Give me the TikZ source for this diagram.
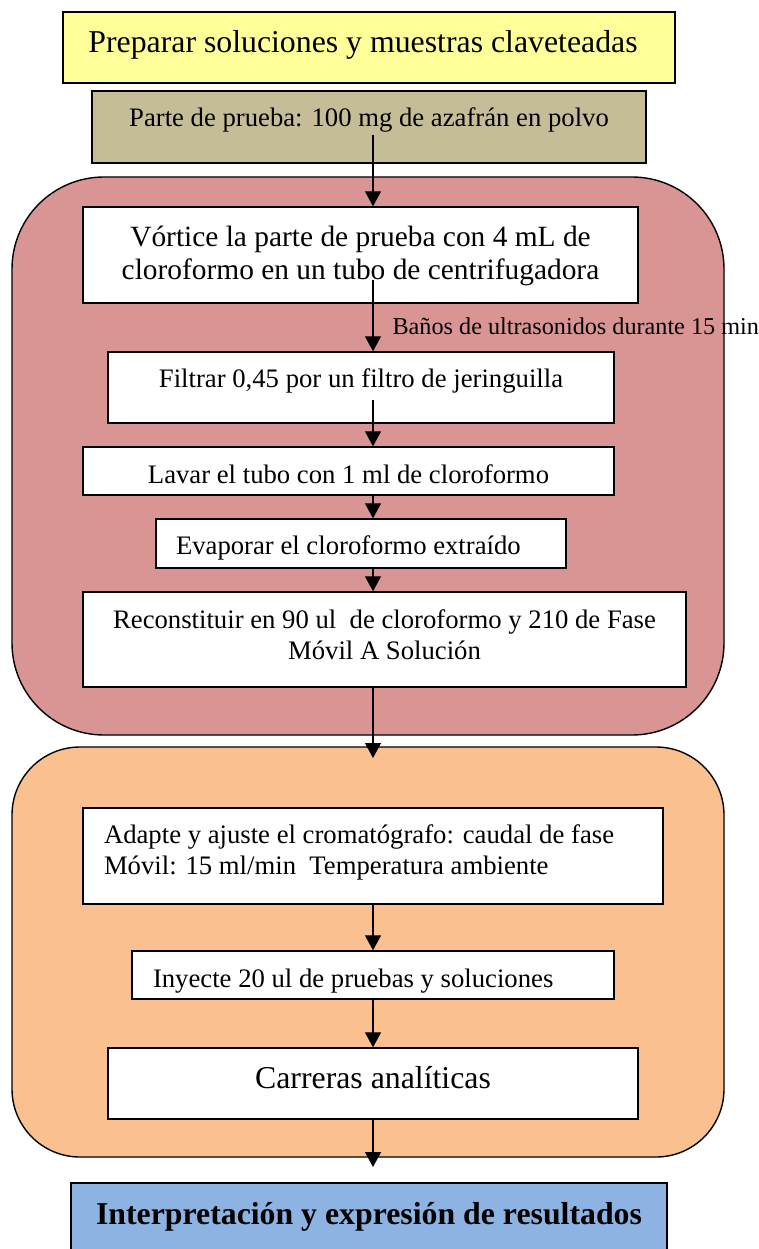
\documentclass[tikz,border=0pt]{standalone}
\usepackage{fontspec}
\setmainfont{Liberation Serif}
\usetikzlibrary{arrows.meta,calc}
\definecolor{cyellow}{HTML}{FFFF99}
\definecolor{ctan}{HTML}{C4BD97}
\definecolor{cred}{HTML}{D99594}
\definecolor{corange}{HTML}{FAC08F}
\definecolor{cblue}{HTML}{8DB3E2}
\newcommand{\rb}[2]{\raisebox{#1pt}[0pt][0pt]{#2}}
\tikzset{
  stepbox/.style={draw=black, line width=1.4pt, rectangle, inner sep=0pt, fill=white},
  grp/.style={draw=black, line width=1.4pt, rectangle, inner sep=0pt},
  arr/.style={line width=1.2pt, -{Triangle[length=15pt,width=16pt]}},
  fa/.style={font=\fontsize{26.7}{31}\selectfont},
  fb/.style={font=\fontsize{29.4}{33}\selectfont},
  fc/.style={font=\fontsize{31.8}{36}\selectfont},
  fd/.style={font=\fontsize{24.2}{28}\selectfont},
}
\begin{document}
\begin{tikzpicture}[x=1pt,y=-1pt]
\useasboundingbox (0,0) rectangle (758,1249);
\clip (0,0) rectangle (758,1249);
\coordinate (ax) at (373,0);
% containers
\node[grp, fill=cred, rounded corners=92pt, minimum width=712pt, minimum height=558pt] (g1) at (368,456) {};
\node[grp, fill=corange, rounded corners=68pt, minimum width=712pt, minimum height=410pt] (g2) at (368,952) {};
% top boxes
\node[stepbox, fill=cyellow, fc, minimum width=612pt, minimum height=71pt] (prep) at (369,47.5) {\rb{-5}{\hspace*{-12pt}Preparar soluciones y muestras claveteadas}};
\node[stepbox, fill=ctan, fa, minimum width=554pt, minimum height=72pt] (tan) at (369,127) {\rb{0}{Parte de prueba: 100 mg de azafrán en polvo}};
% red group
\node[stepbox, fb, minimum width=555pt, minimum height=96pt] (vort) at (360.5,255) {\rb{-24}{\parbox[b]{540pt}{\centering Vórtice la parte de prueba con 4 mL de\\cloroformo en un tubo de centrifugadora}}};
\node[stepbox, fa, minimum width=506pt, minimum height=71pt] (filt) at (361,387.5) {\rb{0.5}{Filtrar 0,45 por un filtro de jeringuilla}};
\node[stepbox, fa, minimum width=531pt, minimum height=48pt] (lav) at (348.5,471) {\rb{-12}{Lavar el tubo con 1 ml de cloroformo}};
\node[stepbox, fa, minimum width=410pt, minimum height=49pt] (evap) at (361,543.5) {\rb{-10.5}{\parbox[b]{370pt}{\raggedright Evaporar el cloroformo extraído}}};
\node[stepbox, fa, minimum width=603pt, minimum height=95pt] (rec) at (384.5,639.5) {\rb{-19.5}{\parbox[b]{590pt}{\centering Reconstituir en 90 ul\ \ de cloroformo y 210 de Fase\\Móvil A Solución}}};
% orange group
\node[stepbox, fa, minimum width=580pt, minimum height=96pt] (adap) at (373,856) {\rb{-18}{\parbox[b]{538pt}{\raggedright Adapte y ajuste el cromatógrafo: caudal de fase\\Móvil: 15 ml/min\ \ Temperatura ambiente}}};
\node[stepbox, fa, minimum width=482pt, minimum height=48pt] (iny) at (373,975) {\rb{-12.5}{\parbox[b]{440pt}{\raggedright Inyecte 20 ul de pruebas y soluciones}}};
\node[stepbox, fc, minimum width=530pt, minimum height=71pt] (carr) at (373,1083.5) {\rb{-4.5}{Carreras analíticas}};
% final
\node[stepbox, fill=cblue, fc, minimum width=596pt, minimum height=100pt] (res) at (369,1233) {\rb{9}{\bfseries Interpretación y expresión de resultados}};
% connector ends
\coordinate (e1) at (373,758);
\coordinate (e2) at (373,1167);
% connectors
\draw[arr] ($(ax |- tan.center)+(0,8)$) -- (ax |- vort.north);
\draw[arr] ($(ax |- vort.center)+(0,25)$) -- node[pos=0.764, anchor=base west, inner sep=0pt, xshift=19pt, fd] (lab) {Baños de ultrasonidos durante 15 min} (ax |- filt.north);
\draw[arr] ($(ax |- filt.center)+(0,12.5)$) -- (ax |- lav.north);
\draw[arr] (ax |- lav.south) -- (ax |- evap.north);
\draw[arr] (ax |- evap.south) -- (ax |- rec.north);
\draw[arr] (ax |- rec.south) -- (e1);
\draw[arr] (ax |- adap.south) -- (ax |- iny.north);
\draw[arr] (ax |- iny.south) -- (ax |- carr.north);
\draw[arr] (ax |- carr.south) -- (e2);
\end{tikzpicture}
\end{document}
